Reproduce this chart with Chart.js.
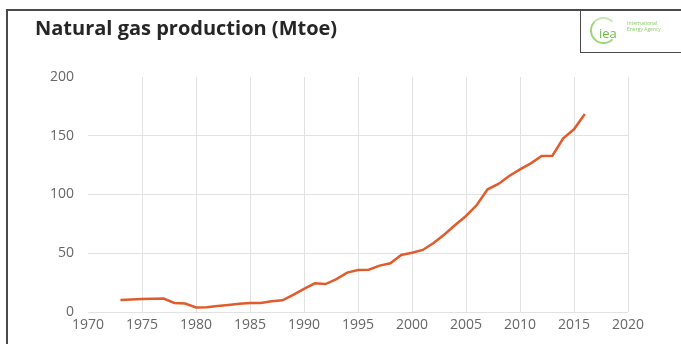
<!DOCTYPE html>
<html>
<head>
<meta charset="utf-8">
<script src="https://cdn.jsdelivr.net/npm/chart.js@4/dist/chart.umd.min.js"></script>
<style>
  html, body { margin:0; padding:0; background:#fff; }
  #wrap { position:relative; width:681px; height:344px; overflow:hidden; background:#fff; }
  #frameL { position:absolute; left:6px; top:9px; width:2px; height:340px; background:#4a4a4a; }
  #frameT { position:absolute; left:6px; top:9px; width:680px; height:2px; background:#4a4a4a; }
  #title { position:absolute; left:35px; top:14px; font-family:"Open Sans", sans-serif; font-weight:700; font-size:20px; line-height:28px; color:#262626; }
  #logo { position:absolute; left:580px; top:9px; width:110px; height:44px; border:1.5px solid #4a4a4a; box-sizing:border-box; }
  #ring { position:absolute; left:9px; top:7px; width:27px; height:27px; border-radius:50%; border:2px solid #9ed67a; border-right-color:transparent; border-top-color:#c4e8ad; box-sizing:border-box; }
  #iea { position:absolute; left:18px; top:16px; font-family:"Open Sans", sans-serif; font-size:13px; line-height:14px; color:#6cbf46; }
  #small { position:absolute; left:46px; top:10px; font-family:"Open Sans", sans-serif; font-size:5px; line-height:6px; color:#8acb68; }
  canvas { position:absolute; left:0; top:0; }
</style>
</head>
<body>
<div id="wrap">
  <canvas id="c" width="681" height="344"></canvas>
  <div id="frameL"></div>
  <div id="frameT"></div>
  <div id="title">Natural gas production (Mtoe)</div>
  <div id="logo"><div id="ring"></div><div id="iea">iea</div><div id="small">International<br>Energy Agency</div></div>
</div>
<script>
const years = [1973,1974,1975,1976,1977,1978,1979,1980,1981,1982,1983,1984,1985,1986,1987,1988,1989,1990,1991,1992,1993,1994,1995,1996,1997,1998,1999,2000,2001,2002,2003,2004,2005,2006,2007,2008,2009,2010,2011,2012,2013,2014,2015,2016];
const production = [10.2,10.6,11,11.2,11.4,7.7,7.2,3.8,4,5.2,6,7,7.7,7.7,9.2,10,14.5,19.6,24.4,23.8,28,33.5,35.7,36,39.5,41.5,48.5,50.5,52.8,58.7,66,74,81.7,91,104.4,109,115.7,121.4,126.5,132.8,133,147.8,155.5,168.5];
const xTicks = [1970,1975,1980,1985,1990,1995,2000,2005,2010,2015,2020];
const yTicks = [0,50,100,150,200];

const points = years.map((y,i) => ({x:y, y:production[i]}));
const tickFont = {family:"Open Sans", size:14};
const gridCol = '#e2e2e2';

new Chart(document.getElementById('c'), {
  type:'line',
  data:{ datasets:[{ data:points, borderColor:'#e05c2c', borderWidth:2.5, pointRadius:0, fill:false, tension:0 }] },
  options:{
    responsive:false, animation:false,
    layout:{ padding:{ top:77, right:53, left:0, bottom:0 } },
    plugins:{ legend:{display:false}, tooltip:{enabled:false} },
    scales:{
      x:{ type:'linear', min:xTicks[0], max:xTicks[xTicks.length-1],
          afterBuildTicks: s => { s.ticks = xTicks.map(v => ({value:v})); },
          afterFit: s => { s.height = 32; },
          ticks:{ font:tickFont, color:'#666', padding:5, maxRotation:0, callback: v => String(v) },
          grid:{ drawTicks:false, color: c => (c.tick && c.tick.value === 1970) ? 'rgba(0,0,0,0)' : gridCol, lineWidth:1 },
          border:{ display:false } },
      y:{ min:0, max:200,
          afterBuildTicks: s => { s.ticks = yTicks.map(v => ({value:v})); },
          afterFit: s => { s.width = 88; },
          ticks:{ font:tickFont, color:'#666', padding:14 },
          grid:{ drawTicks:false, color: c => (c.tick && c.tick.value === 200) ? 'rgba(0,0,0,0)' : gridCol, lineWidth:1 },
          border:{ display:false } }
    }
  }
});
</script>
</body>
</html>
